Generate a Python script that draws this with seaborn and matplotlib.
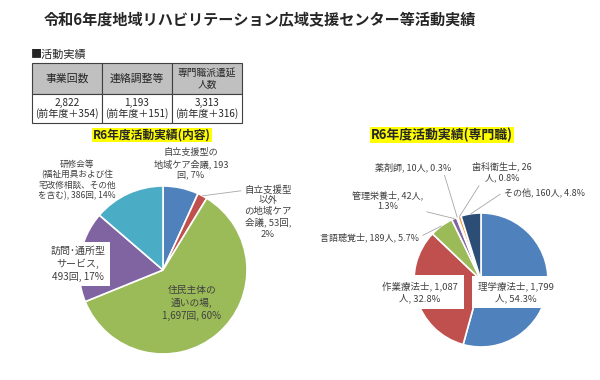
import numpy as np
import matplotlib
matplotlib.use("Agg")
import matplotlib.pyplot as plt
import seaborn as sns

sns.set_theme(style="white")
plt.rcParams['font.family'] = ['Noto Sans CJK JP', 'DejaVu Sans']

title = "令和6年度地域リハビリテーション広域支援センター等活動実績"

# summary table
table_cols = ["事業回数", "連絡調整等", "専門職派遣延\n人数"]
table_vals = ["2,822\n(前年度＋354)", "1,193\n(前年度＋151)", "3,313\n(前年度＋316)"]

# left pie: activity content
content_labels = ["自立支援型の\n地域ケア会議, 193\n回, 7%",
                  "自立支援型\n以外\nの地域ケア\n会議, 53回,\n2%",
                  "住民主体の\n通いの場,\n1,697回, 60%",
                  "訪問･通所型\nサービス,\n493回, 17%",
                  "研修会等\n(福祉用具および住\n宅改修相談、その他\nを含む), 386回, 14%"]
content_values = [193, 53, 1697, 493, 386]
content_colors = ["#4f81bd", "#c0504d", "#9bbb59", "#8064a2", "#4bacc6"]

# right pie: professions
prof_labels = ["理学療法士, 1,799\n人, 54.3%",
               "作業療法士, 1,087\n人, 32.8%",
               "言語聴覚士, 189人, 5.7%",
               "管理栄養士, 42人,\n1.3%",
               "薬剤師, 10人, 0.3%",
               "歯科衛生士, 26\n人, 0.8%",
               "その他, 160人, 4.8%"]
prof_values = [1799, 1087, 189, 42, 10, 26, 160]
prof_colors = ["#4f81bd", "#c0504d", "#9bbb59", "#8064a2", "#4bacc6", "#f79646", "#2c4d75"]

W, H = 600, 380
fig = plt.figure(figsize=(6, 3.8), dpi=100)


def fpos(px, py):
    return (px / W, 1 - py / H)


def pie_axes(cx, cy, r):
    ax = fig.add_axes([(cx - r) / W, 1 - (cy + r) / H, 2 * r / W, 2 * r / H])
    return ax


fig.text(*fpos(260, 20), title, ha="center", va="center", fontsize=10.9, fontweight="bold")
fig.text(*fpos(31, 55), "■活動実績", ha="left", va="center", fontsize=8)

# table
ax_t = fig.add_axes([32 / W, 1 - 123 / H, 210 / W, 60 / H])
ax_t.axis("off")
tbl = ax_t.table(cellText=[table_vals], colLabels=table_cols, cellLoc="center",
                 bbox=[0, 0, 1, 1])
tbl.auto_set_font_size(False)
for (r, c), cell in tbl.get_celld().items():
    cell.set_edgecolor("#404040")
    cell.set_linewidth(0.8)
    if r == 0:
        cell.set_facecolor("#c0c0c0")
        cell.set_height(31 / 60)
        cell.get_text().set_fontsize(7.8 if c < 2 else 7)
    else:
        cell.set_height(29 / 60)
        cell.get_text().set_fontsize(7.2)
    cell.get_text().set_color("#262626")
    cell.get_text().set_linespacing(1.1)

# left pie
ax1 = pie_axes(163, 270, 84)
w1, _ = ax1.pie(content_values, colors=content_colors, startangle=90, counterclock=False,
                wedgeprops=dict(edgecolor="white", linewidth=1.2))
ax1.set_xlim(-1, 1)
ax1.set_ylim(-1, 1)
fig.text(*fpos(152, 135), "R6年度活動実績(内容)", ha="center", va="center", fontsize=8.5,
         fontweight="bold", bbox=dict(facecolor="#ffff00", edgecolor="none", pad=0.5))

lc = "#404040"
fig.text(*fpos(191, 164), content_labels[0], ha="center", va="center", fontsize=6.6,
         color=lc, linespacing=1.25)
ang = np.deg2rad((w1[1].theta1 + w1[1].theta2) / 2)
ax1.annotate(content_labels[1], xy=(np.cos(ang), np.sin(ang)), xytext=fpos(268, 212),
             textcoords="figure fraction", ha="center", va="center", fontsize=6.8,
             color=lc, linespacing=1.25,
             arrowprops=dict(arrowstyle="-", color="#a6a6a6", lw=0.6, shrinkA=0, shrinkB=0,
                             relpos=(0, 0.9)))
fig.text(*fpos(192, 303), content_labels[2], ha="center", va="center", fontsize=7,
         color=lc, linespacing=1.3)
fig.text(*fpos(78, 264), content_labels[3], ha="center", va="center", fontsize=7.2,
         color=lc, linespacing=1.3,
         bbox=dict(facecolor="white", edgecolor="none", pad=3))
fig.text(*fpos(77, 180), content_labels[4], ha="center", va="center", fontsize=6.2,
         color=lc, linespacing=1.2)

# right pie
ax2 = pie_axes(481, 280, 67)
w2, _ = ax2.pie(prof_values, colors=prof_colors, startangle=90, counterclock=False,
                wedgeprops=dict(edgecolor="white", linewidth=1.2))
ax2.set_xlim(-1, 1)
ax2.set_ylim(-1, 1)
fig.text(*fpos(442, 135), "R6年度活動実績(専門職)", ha="center", va="center", fontsize=9.3,
         fontweight="bold", bbox=dict(facecolor="#ffff00", edgecolor="none", pad=0.5))

fig.text(*fpos(516, 292), prof_labels[0], ha="center", va="center", fontsize=6.8,
         color=lc, linespacing=1.3,
         bbox=dict(facecolor="white", edgecolor="none", pad=4))
fig.text(*fpos(420, 292), prof_labels[1], ha="center", va="center", fontsize=6.8,
         color=lc, linespacing=1.3,
         bbox=dict(facecolor="white", edgecolor="none", pad=4))

outer = {2: (fpos(370, 237), (1, 0.5)), 3: (fpos(388, 201), (0.9, 0.1)),
         4: (fpos(413, 167), (0.9, 0.0)), 5: (fpos(502, 172), (0.15, 0.0)),
         6: (fpos(544, 192), (0.0, 0.5))}
for i, (xy_text, rp) in outer.items():
    ang = np.deg2rad((w2[i].theta1 + w2[i].theta2) / 2)
    ax2.annotate(prof_labels[i], xy=(np.cos(ang), np.sin(ang)), xytext=xy_text,
                 textcoords="figure fraction", ha="center", va="center", fontsize=6.5,
                 color=lc, linespacing=1.3,
                 arrowprops=dict(arrowstyle="-", color="#a6a6a6", lw=0.6, shrinkA=0,
                                 shrinkB=0, relpos=rp))

fig.savefig("out.png", dpi=100, facecolor="white")
